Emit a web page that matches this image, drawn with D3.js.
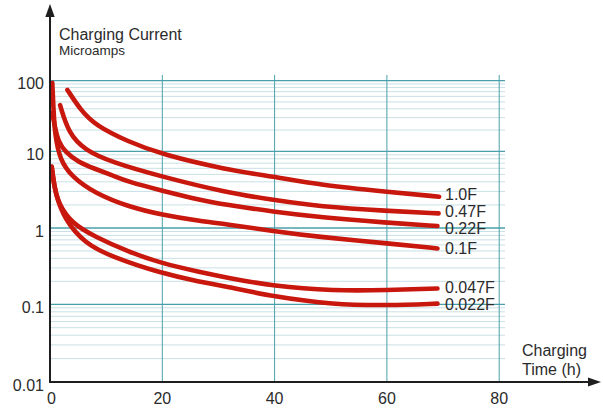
<!DOCTYPE html>
<html>
<head>
<meta charset="utf-8">
<script src="https://cdn.jsdelivr.net/npm/d3@7"></script>
<style>
html,body{margin:0;padding:0;background:#fff;}
svg{display:block;font-family:"Liberation Sans",Arial,Helvetica,sans-serif;}
</style>
</head>
<body>
<svg id="chart" width="603" height="409"></svg>
<script>
// ---- data ----
const xTicks = [0, 20, 40, 60, 80];
const yTicks = [0.01, 0.1, 1, 10, 100];
const yTickLabels = ["0.01", "0.1", "1", "10", "100"];
const seriesNames = ["1.0F", "0.47F", "0.22F", "0.1F", "0.047F", "0.022F"];

const s10F = [[3.1,74],[5.5,38],[8.0,23.6],[13.9,13.7],[19.9,9.1],[31.2,5.8],[39.8,4.67],[48.1,3.64],[60,2.97],[69.3,2.56]];
const s047F = [[1.8,45],[3.3,18],[6.2,10.4],[11,7.2],[19.9,4.67],[31.2,2.92],[39.8,2.32],[48.1,1.9],[60,1.67],[69.2,1.55]];
const s022F = [[0.41,35],[0.9,21.4],[1.5,13.7],[2.7,9.8],[5.0,7.25],[8,5.9],[11,4.9],[13.9,4.0],[19.9,3.08],[26.7,2.32],[31.2,2.02],[39.8,1.63],[48.1,1.38],[60,1.17],[69,1.06]];
const s01F = [[0.41,93],[0.62,38.5],[0.89,17],[1.78,7.7],[3.86,4.67],[8,2.83],[13.9,1.9],[19.9,1.48],[26.7,1.23],[31.2,1.13],[39.8,0.91],[48.1,0.76],[60,0.63],[69,0.54]];
const s0047F = [[0.3,6.3],[0.8,3.4],[1.48,2.1],[3.86,1.15],[8,0.77],[13.9,0.49],[19.9,0.343],[26.7,0.265],[31.2,0.226],[39.8,0.172],[50.5,0.15],[60,0.153],[69,0.161]];
const s0022F = [[0.3,6.3],[0.89,2.83],[2.67,1.27],[6.2,0.63],[11,0.419],[19.9,0.254],[26.7,0.197],[31.2,0.172],[39.8,0.126],[50.5,0.099],[60,0.097],[69,0.102]];
const seriesData = [s10F, s047F, s022F, s01F, s0047F, s0022F];
const labelDy = [-2, -2, 2.5, 0, -1, 1];

// ---- scales ----
const x = d3.scaleLinear().domain([0, 80]).range([50, 499.2]);
const y = d3.scaleLog().domain([0.01, 0.1, 1, 10, 100]).range([382, 304.3, 228, 151.3, 80.7]);

const svg = d3.select("#chart");
const textColor = "#2b2b2b";

// minor gridlines
const minor = [];
[0.01, 0.1, 1, 10].forEach(d => { for (let k = 2; k <= 9; k++) minor.push(d * k); });
svg.append("g").selectAll("line").data(minor).join("line")
  .attr("x1", 50).attr("x2", 505)
  .attr("y1", d => y(d)).attr("y2", d => y(d))
  .attr("stroke", "#c9e0e5").attr("stroke-width", 1);

// major horizontal gridlines
svg.append("g").selectAll("line").data(yTicks.slice(1)).join("line")
  .attr("x1", 50).attr("x2", 505)
  .attr("y1", d => y(d)).attr("y2", d => y(d))
  .attr("stroke", "#4aa0aa").attr("stroke-width", 1.3);

// vertical gridlines
svg.append("g").selectAll("line").data(xTicks.slice(1)).join("line")
  .attr("x1", d => x(d)).attr("x2", d => x(d))
  .attr("y1", 75).attr("y2", y(0.01))
  .attr("stroke", "#4aa0aa").attr("stroke-width", 1);

// curves
const line = d3.line().x(d => x(d[0])).y(d => y(d[1])).curve(d3.curveBasis);
svg.append("g").selectAll("path").data(seriesData).join("path")
  .attr("d", line)
  .attr("fill", "none")
  .attr("stroke", "#c8170d")
  .attr("stroke-width", 4.6)
  .attr("stroke-linecap", "round")
  .attr("stroke-linejoin", "round");

// curve labels
svg.append("g").selectAll("text").data(seriesData).join("text")
  .attr("x", 445)
  .attr("y", (d, i) => y(d[d.length - 1][1]) + labelDy[i])
  .attr("dy", "0.36em")
  .attr("font-size", 16)
  .attr("fill", textColor)
  .text((d, i) => seriesNames[i]);

// axes
const axisColor = "#1e1e1e";
svg.append("line").attr("x1", 50).attr("x2", 50).attr("y1", 14).attr("y2", y(0.01) + 1)
  .attr("stroke", axisColor).attr("stroke-width", 2);
svg.append("path").attr("d", "M50,4 L45.3,17 L54.7,17 Z").attr("fill", axisColor);
svg.append("line").attr("x1", 49).attr("x2", 592).attr("y1", y(0.01)).attr("y2", y(0.01))
  .attr("stroke", axisColor).attr("stroke-width", 2);
svg.append("path").attr("d", `M601,${y(0.01)} L588,${y(0.01) - 4.5} L588,${y(0.01) + 4.5} Z`).attr("fill", axisColor);

// y tick labels
svg.append("g").selectAll("text").data(yTicks).join("text")
  .attr("x", 44)
  .attr("y", d => y(d) + 3)
  .attr("dy", "0.36em")
  .attr("text-anchor", "end")
  .attr("font-size", 16)
  .attr("fill", textColor)
  .text((d, i) => yTickLabels[i]);

// x tick labels
svg.append("g").selectAll("text").data(xTicks).join("text")
  .attr("x", d => x(d) + (d === 0 ? 1.5 : 0))
  .attr("y", 404)
  .attr("text-anchor", "middle")
  .attr("font-size", 16)
  .attr("fill", textColor)
  .text(d => d);

// axis titles
svg.append("text").attr("x", 59).attr("y", 39.5).attr("font-size", 16).attr("fill", textColor).text("Charging Current");
svg.append("text").attr("x", 59).attr("y", 54.5).attr("font-size", 13.5).attr("fill", textColor).text("Microamps");
svg.append("text").attr("x", 522).attr("y", 356).attr("font-size", 16).attr("fill", textColor).text("Charging");
svg.append("text").attr("x", 522).attr("y", 375).attr("font-size", 16).attr("fill", textColor).text("Time (h)");
</script>
</body>
</html>
